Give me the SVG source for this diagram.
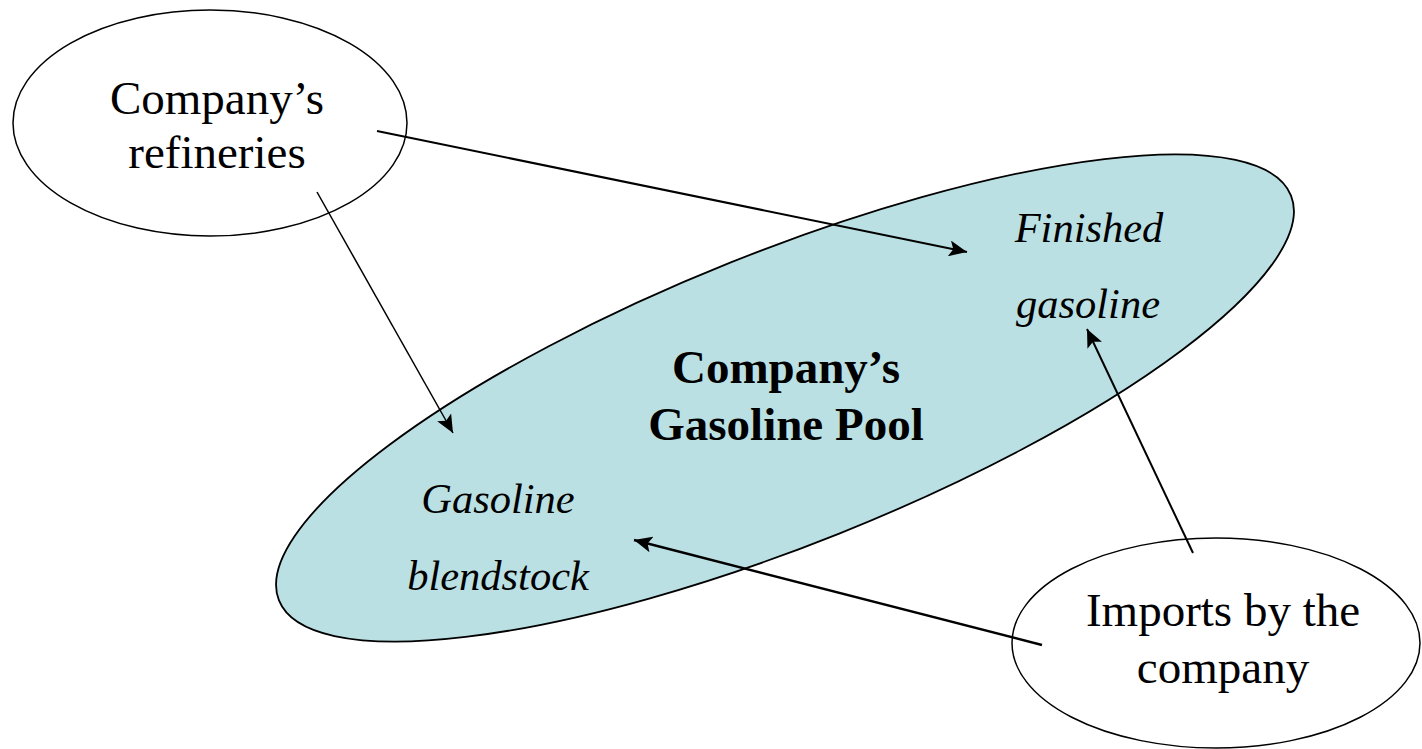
<svg xmlns="http://www.w3.org/2000/svg" width="1422" height="749" viewBox="0 0 1422 749">
<style>
.node{fill:#ffffff;stroke:#000000;stroke-width:1.5}
.pool{fill:#BAE0E3;stroke:#000000;stroke-width:1.8}
.t{font-family:"Liberation Serif","Times New Roman",serif;font-size:47px;fill:#000;text-anchor:middle}
.b{font-weight:bold}
.i{font-style:italic;font-size:42.5px}
.c{stroke:#000;fill:none}
</style>
<defs>
<marker id="ah" markerUnits="userSpaceOnUse" markerWidth="20" markerHeight="16" viewBox="0 0 20 16" refX="18" refY="8" orient="auto">
<path d="M0,0 L18,8 L0,16 L4,8 Z" fill="#000"/>
</marker>
</defs>
<g id="pool">
<ellipse class="pool" cx="785" cy="398" rx="545" ry="146" transform="rotate(-21.8 785 398)"/>
<text class="t b" x="786" y="383">Company’s</text>
<text class="t b" x="786" y="440">Gasoline Pool</text>
<text class="t i" x="1089" y="242">Finished</text>
<text class="t i" x="1088" y="318">gasoline</text>
<text class="t i" x="498" y="513">Gasoline</text>
<text class="t i" x="498" y="590">blendstock</text>
</g>
<g id="refineries">
<ellipse class="node" cx="210" cy="123" rx="197" ry="113"/>
<text class="t" x="217" y="114">Company’s</text>
<text class="t" x="217" y="168">refineries</text>
</g>
<g id="imports">
<ellipse class="node" cx="1216" cy="643" rx="204" ry="105"/>
<text class="t" x="1223" y="626">Imports by the</text>
<text class="t" x="1223" y="683">company</text>
</g>
<g id="connectors">
<line class="c" x1="377" y1="131" x2="967" y2="252" stroke-width="2" marker-end="url(#ah)"/>
<line class="c" x1="317" y1="192" x2="453" y2="433" stroke-width="1.5" marker-end="url(#ah)"/>
<line class="c" x1="1042" y1="645" x2="634" y2="540" stroke-width="2.5" marker-end="url(#ah)"/>
<line class="c" x1="1193" y1="553" x2="1087" y2="329" stroke-width="2" marker-end="url(#ah)"/>
</g>
</svg>
